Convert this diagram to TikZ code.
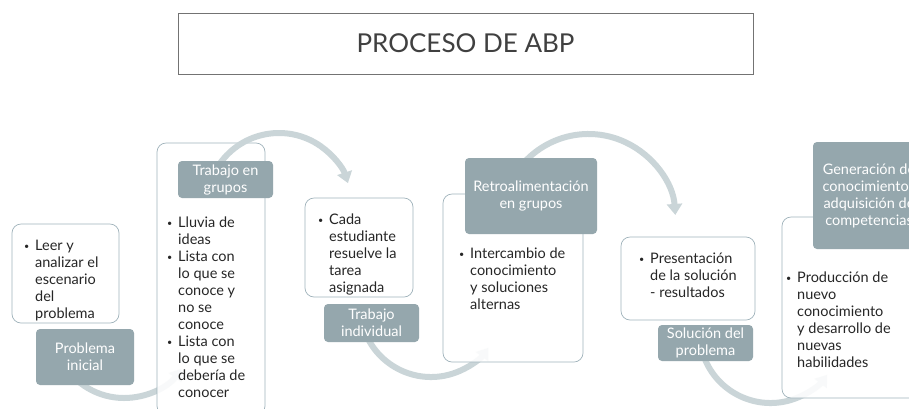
\documentclass[tikz,border=0pt]{standalone}
\usepackage{fontspec}
\setmainfont{Lato}
\usepackage{tikz}
\usetikzlibrary{arrows.meta}

\definecolor{lblfill}{RGB}{149,167,173}
\definecolor{arcgray}{RGB}{202,213,216}
\definecolor{boxline}{RGB}{160,179,187}
\definecolor{titletext}{RGB}{64,64,64}

\newcommand{\bul}{\makebox[11pt][l]{\raisebox{1pt}{\small\textbullet}}}
\newcommand{\pts}[1]{\begin{tabular}[t]{@{}l@{}l@{}}#1\end{tabular}}

\begin{document}
\begin{tikzpicture}[x=1pt,y=-1pt,
    box/.style={draw=boxline, line width=0.7pt, fill=white, fill opacity=0.88, rounded corners=9pt, inner sep=0pt},
    lbl/.style={fill=lblfill, rounded corners=4pt, text=white, align=center, inner sep=0pt, font=\fontsize{14.5}{17}\selectfont},
    txt/.style={anchor=base west, inner sep=0pt, text=black!85, font=\fontsize{14.5}{17}\selectfont},
    flow/.style={draw=arcgray, line width=6pt, -{Triangle[width=15pt,length=11pt]}},
    titlebox/.style={draw=black!55, line width=0.9pt, minimum width=575pt, minimum height=61pt, text=titletext, font=\fontsize{26}{30}\selectfont}]
    \useasboundingbox (0,0) rectangle (909,408);
    \fill[white] (0,0) rectangle (909,408);
    \clip (0,0) rectangle (909,408);

    \node[titlebox] (title) at (465.5,43.5) {PROCESO DE ABP};

    \coordinate (a1) at ([shift={(150:71)}]124,327);
    \coordinate (a3) at ([shift={(160:71)}]431,306);
    \coordinate (a5) at ([shift={(160:71)}]770.5,332);
    \draw[flow] (a1) arc (150:36:71);
    \draw[flow] (a3) arc (160:36:71);
    \draw[flow] (a5) arc (160:37:71);

    \node[box, minimum width=107pt, minimum height=99pt] (b1) at (65.5,273.5) {};
    \node[box, minimum width=108pt, minimum height=272pt] (b2) at (211,279) {};
    \node[box, minimum width=108pt, minimum height=99pt] (b3) at (359,247.5) {};
    \node[box, minimum width=140pt, minimum height=168pt] (b4) at (513,278) {};
    \node[box, minimum width=134pt, minimum height=83pt] (b5) at (688,278.5) {};
    \node[box, minimum width=140pt, minimum height=181pt] (b6) at (852,307.5) {};

    \coordinate (a2) at ([shift={(215:72.5)}]279,205.5);
    \coordinate (a4) at ([shift={(205:87)}]588.5,221);
    \draw[flow] (a2) arc (215:342:72.5);
    \draw[flow] (a4) arc (205:356:87);

    \node[lbl, minimum width=98pt, minimum height=56pt] (l1) at (85,357) {Problema\\inicial};
    \node[lbl, minimum width=95pt, minimum height=37pt] (l2) at (225.5,179.5) {Trabajo en\\grupos};
    \node[lbl, minimum width=95pt, minimum height=38pt] (l3) at (371.5,323) {Trabajo\\individual};
    \node[lbl, minimum width=132pt, minimum height=76pt] (l4) at (531,196) {Retroalimentación\\en grupos};
    \node[lbl, minimum width=95pt, minimum height=36pt] (l5) at (705.5,343) {Solución del\\problema};
    \node[lbl, minimum width=112pt, minimum height=107pt] (l6) at (869,195.5) {Generación de\\conocimiento/\\adquisición de\\competencias};

    \node[txt] (t1) at (24,250) {\pts{\bul & Leer y\\ & analizar el\\ & escenario\\ & del\\ & problema}};
    \node[txt] (t2) at (167,227) {\pts{\bul & Lluvia de\\ & ideas\\
      \bul & Lista con\\ & lo que se\\ & conoce y\\ & no se\\ & conoce\\
      \bul & Lista con\\ & lo que se\\ & debería de\\ & conocer}};
    \node[txt] (t3) at (318,224) {\pts{\bul & Cada\\ & estudiante\\ & resuelve la\\ & tarea\\ & asignada}};
    \node[txt] (t4) at (459,258) {\pts{\bul & Intercambio de\\ & conocimiento\\ & y soluciones\\ & alternas}};
    \node[txt] (t5) at (639,263) {\pts{\bul & Presentación\\ & de la solución\\ & - resultados}};
    \node[txt] (t6) at (786,282) {\pts{\bul & Producción de\\ & nuevo\\ & conocimiento\\ & y desarrollo de\\ & nuevas\\ & habilidades}};
\end{tikzpicture}
\end{document}
